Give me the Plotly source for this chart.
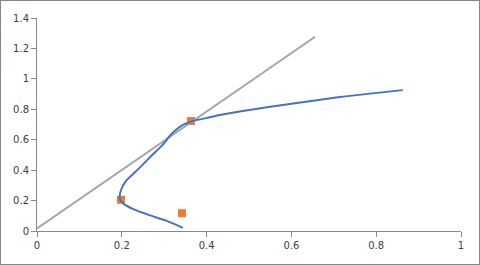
import plotly.graph_objects as go

# Blue smoothed curve
curve_x = [0.344, 0.305, 0.265, 0.226, 0.204, 0.196, 0.195, 0.199, 0.210, 0.226, 0.250, 0.273, 0.297, 0.313, 0.328, 0.344, 0.368, 0.399, 0.431, 0.478, 0.596, 0.714, 0.863]
curve_y = [0.021, 0.068, 0.104, 0.145, 0.180, 0.205, 0.228, 0.276, 0.330, 0.373, 0.438, 0.503, 0.568, 0.625, 0.665, 0.697, 0.723, 0.742, 0.762, 0.786, 0.835, 0.880, 0.926]

# Gray straight line
line_x = [0.0, 0.656]
line_y = [0.017, 1.277]

# Orange points
pts_x = [0.198, 0.342, 0.363]
pts_y = [0.205, 0.117, 0.723]

fig = go.Figure()
fig.add_trace(go.Scatter(x=pts_x, y=pts_y, mode="markers",
                         marker=dict(symbol="square", size=8, color="#ED7D31"),
                         showlegend=False))
fig.add_trace(go.Scatter(x=line_x, y=line_y, mode="lines",
                         line=dict(color="#A5A5A5", width=2), showlegend=False))
fig.add_trace(go.Scatter(x=curve_x, y=curve_y, mode="lines",
                         line=dict(color="#4472C4", width=2, shape="spline", smoothing=0.6),
                         showlegend=False))

axis_common = dict(showgrid=False, zeroline=False, showline=True, linecolor="#898989",
                   linewidth=1, ticks="outside", ticklen=5, tickcolor="#898989",
                   tickfont=dict(family="DejaVu Sans", size=10, color="#404040"),
                   dtick=0.2, tick0=0)
fig.update_xaxes(range=[0, 1], **axis_common)
fig.update_yaxes(range=[0, 1.4], **axis_common)

W, H = 480, 265
fig.update_layout(width=W, height=H, margin=dict(l=37, r=19, t=15, b=34),
                  paper_bgcolor="rgba(0,0,0,0)", plot_bgcolor="white")
fig.write_html(
    "out.html", config={"displayModeBar": False},
    post_script=("document.body.style.margin='0';document.body.style.overflow='hidden';"
                 "document.body.style.background='white';"
                 "var d=document.getElementById('{plot_id}');"
                 "d.style.boxShadow='inset 0 0 0 1px #868686';"))
